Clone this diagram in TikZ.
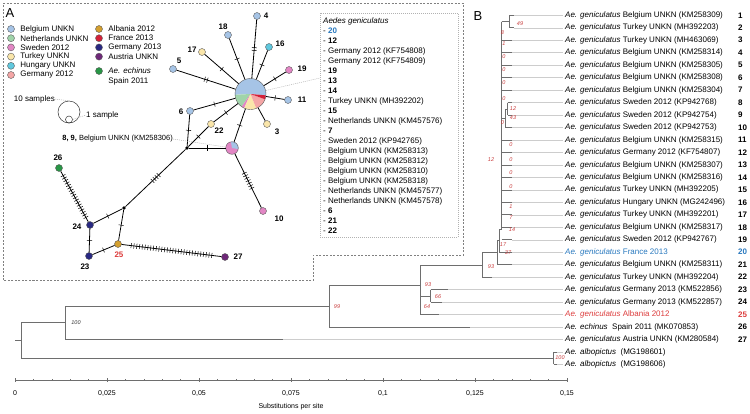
\documentclass[tikz,border=0pt]{standalone}
\usepackage{fontspec}
\setmainfont{Liberation Sans}
\usetikzlibrary{positioning,decorations.markings}
\definecolor{BelClr}{RGB}{166,196,230}
\definecolor{NetClr}{RGB}{160,212,170}
\definecolor{SweClr}{RGB}{226,134,196}
\definecolor{TurClr}{RGB}{250,230,170}
\definecolor{HunClr}{RGB}{96,200,222}
\definecolor{GerTwClr}{RGB}{244,166,166}
\definecolor{AlbClr}{RGB}{212,160,48}
\definecolor{FraClr}{RGB}{212,32,56}
\definecolor{GerThClr}{RGB}{40,40,130}
\definecolor{AusClr}{RGB}{110,40,120}
\definecolor{EchClr}{RGB}{40,150,70}
\definecolor{SupClr}{RGB}{200,60,60}
\definecolor{FraTxtClr}{RGB}{40,120,190}
\definecolor{AlbTxtClr}{RGB}{220,60,60}
\definecolor{BranchClr}{RGB}{110,110,110}
\definecolor{LeadClr}{RGB}{205,205,205}
\newcommand{\ry}[1]{2.83+12.47*#1}

\begin{document}
\begin{tikzpicture}[x=1pt,y=-1pt,
  txt/.style={inner sep=0pt, font=\fontsize{8}{9}\selectfont},
  hlab/.style={inner sep=0pt, font=\fontsize{8}{9}\selectfont\bfseries},
  sup/.style={inner sep=0pt, text=SupClr, font=\fontsize{5.5}{6}\selectfont\itshape},
  hap/.style={circle, draw=black!65, line width=.4pt, inner sep=0pt, minimum size=7pt},
  junc/.style={circle, fill=black, inner sep=0pt, minimum size=3.6pt},
  link/.style={line width=.8pt},
  mut/.style={link, postaction={decorate, decoration={markings, mark=at position .5 with {\foreach \k in {1,...,#1} \draw[line width=.5pt] ({(\k-(#1+1)/2)*2.8pt},-2.6pt) -- ++(0pt,5.2pt);}}}},
  lead/.style={LeadClr, line width=.5pt},
  dotline/.style={gray!60, line width=.5pt, dash pattern=on 1pt off 1pt},
  branch/.style={BranchClr, line width=.7pt},
  frame/.style={gray, line width=.5pt, dash pattern=on 2pt off 1.5pt},
]
\useasboundingbox (0,0) rectangle (750,413);

% panel A
\draw[frame] (3,3) -- (463,3) -- (463,255) -- (313,255) -- (313,280) -- (3,280) -- cycle;
\draw[dotline] (320,13) rectangle (458,237);
\node[inner sep=0pt, font=\fontsize{13}{13}\selectfont] at (10,13) {A};

\foreach \c/\t [count=\i] in {BelClr/Belgium UNKN, NetClr/Netherlands UNKN, SweClr/Sweden 2012, TurClr/Turkey UNKN, HunClr/Hungary UNKN, GerTwClr/Germany 2012} {
  \node[hap, fill=\c] (lgA\i) at (11,{29+9.2*(\i-1)}) {};
  \node[txt, right=5.5pt of lgA\i] {\t};
}
\foreach \c/\t [count=\i] in {AlbClr/Albania 2012, FraClr/France 2013, GerThClr/Germany 2013, AusClr/Austria UNKN} {
  \node[hap, fill=\c] (lgB\i) at (99,{29+9.2*(\i-1)}) {};
  \node[txt, right=5.5pt of lgB\i] {\t};
}
\node[hap, fill=EchClr] (lgEch) at (99,71) {};
\node[txt, right=5.5pt of lgEch] (ech) {\itshape Ae. echinus};
\node[txt, anchor=north west] at ([yshift=-3pt]ech.south west) {Spain 2011};

\node[circle, draw=black!80, line width=.5pt, inner sep=0pt, minimum size=22pt] (szBig) at (69,112) {};
\node[circle, draw=black!80, line width=.5pt, inner sep=0pt, minimum size=7pt] (szSmall) at (69,119.5) {};
\node[txt, anchor=east] (szBigTxt) at (55,99) {10 samples};
\node[txt, anchor=west] (szSmallTxt) at (86,115) {1 sample};
\draw[dotline] (szBigTxt.east) -- (szBig.north);
\draw[dotline] (szSmall.east) -- (szSmallTxt.west);

% haplotypes
\node[circle, inner sep=0pt, minimum size=31pt] (hc) at (250.5,94) {};
\foreach \a/\b/\c in {-5/183/BelClr, 183/235/NetClr, 235/246/SweClr, 246/292/TurClr, 292/340/GerTwClr, 340/355/FraClr}
  \fill[\c] (hc.center) -- ++(\a:15.5pt) arc[start angle=\a, end angle=\b, radius=15.5pt] -- cycle;
\draw[black!65, line width=.4pt] (hc.center) circle[radius=15.5pt];

\node[circle, inner sep=0pt, minimum size=12.6pt] (h89) at (232,148) {};
\fill[SweClr] (h89.center) circle[radius=6.3pt];
\fill[BelClr] (h89.center) -- ++(-10:6.3pt) arc[start angle=-10, end angle=100, radius=6.3pt] -- cycle;
\draw[black!65, line width=.4pt] (h89.center) circle[radius=6.3pt];

\node[hap, fill=BelClr] (h4) at (257,16) {};
\node[hap, fill=BelClr] (h18) at (228,35) {};
\node[hap, fill=HunClr] (h16) at (269,47) {};
\node[hap, fill=TurClr] (h17) at (202,52) {};
\node[hap, fill=SweClr] (h19) at (289,70) {};
\node[hap, fill=BelClr] (h5) at (173,69) {};
\node[hap, fill=BelClr] (h11) at (288,100) {};
\node[hap, fill=BelClr] (h6) at (190,111) {};
\node[hap, fill=TurClr] (h3) at (267,124) {};
\node[hap, fill=TurClr] (h22) at (211,124) {};
\node[hap, fill=SweClr] (h10) at (263,211) {};
\node[hap, fill=GerThClr] (h24) at (90,225) {};
\node[hap, fill=AlbClr] (h25) at (118,244) {};
\node[hap, fill=GerThClr] (h23) at (89,256) {};
\node[hap, fill=AusClr] (h27) at (225,257) {};
\node[hap, fill=EchClr] (h26) at (59,168) {};
\node[junc] (jA) at (187,148) {};
\node[junc] (jB) at (124,208) {};

\draw[mut=2] (hc) -- (h4);
\draw[mut=1] (hc) -- (h18);
\draw[mut=1] (hc) -- (h16);
\draw[mut=1] (hc) -- (h17);
\draw[mut=1] (hc) -- (h19);
\draw[mut=2] (hc) -- (h5);
\draw[mut=1] (hc) -- (h11);
\draw[mut=1] (hc) -- (h6);
\draw[link] (hc) -- (h3);
\draw[mut=1] (hc) -- (h22);
\draw[mut=1] (hc) -- (h89);
\draw[mut=1] (jA) -- (h22);
\draw[mut=1] (jA) -- (h6);
\draw[mut=1] (jA) -- (h89);
\draw[mut=4] (jA) -- (jB);
\draw[mut=7] (h89) -- (h10);
\draw[mut=1] (jB) -- (h24);
\draw[mut=1] (jB) -- (h25);
\draw[mut=1] (h24) -- (h23);
\draw[mut=18] (h24) -- (h26);
\draw[mut=1] (h23) -- (h25);
\draw[mut=30] (h25) -- (h27);

\node[hlab] at (266,16) {4};
\node[hlab] at (223,27) {18};
\node[hlab] at (280,44) {16};
\node[hlab] at (192,50) {17};
\node[hlab] at (302,69) {19};
\node[hlab] at (179,61) {5};
\node[hlab] at (302,100) {11};
\node[hlab] at (181,112) {6};
\node[hlab] at (277,132) {3};
\node[hlab] at (219,131) {22};
\node[hlab] at (279,219) {10};
\node[hlab] at (77,227) {24};
\node[hlab, text=AlbTxtClr] at (119,255) {25};
\node[hlab] at (85,267) {23};
\node[hlab] at (238,257) {27};
\node[hlab] at (58,158) {26};

\node[inner sep=0pt, anchor=east, font=\fontsize{7.5}{9}\selectfont] (lbl89) at (173,139) {\textbf{8, 9,} Belgium UNKN (KM258306)};
\coordinate (lstTop) at (320,78);
\draw[dotline] (lbl89.east) -- (h89);
\draw[dotline] (hc) -- (lstTop);

\node[txt, anchor=west] at (323,21) {\itshape Aedes geniculatus};
\foreach \t [count=\i] in {{\textcolor{FraTxtClr}{\textbf{20}}}, {\textbf{12}}, Germany 2012 (KF754808), Germany 2012 (KF754809), {\textbf{19}}, {\textbf{13}}, {\textbf{14}}, Turkey UNKN (MH392202), {\textbf{15}}, Netherlands UNKN (KM457576), {\textbf{7}}, Sweden 2012 (KP942765), Belgium UNKN (KM258313), Belgium UNKN (KM258312), Belgium UNKN (KM258310), Belgium UNKN (KM258318), Netherlands UNKN (KM457577), Netherlands UNKN (KM457578), {\textbf{6}}, {\textbf{21}}, {\textbf{22}}}
  \node[txt, anchor=west] at (323,{21+10*\i}) {- \t};

% panel B
\node[inner sep=0pt, font=\fontsize{13}{13}\selectfont] at (478,16) {B};

\foreach \r/\e in {1/514,2/514,3/512,4/512,5/512,6/512,7/512,8/512,9/512,10/512,11/512,12/512,13/512,14/512,15/512,16/512,17/512,18/512,19/512,20/512,21/512,22/492,23/448,24/442,25/439,26/470,27/283,28/557,29/557}
  \draw[lead] (\e,\ry{\r}) -- (563,\ry{\r});

\draw[branch] (509,\ry{1}) -- (514,\ry{1}) (509,\ry{2}) -- (514,\ry{2}) (509,\ry{1}) -- (509,\ry{2});
\draw[branch] (501.7,21.5) -- (509,21.5) (501.7,21.5) -- (501.7,228.9);
\foreach \r in {3,4,5,6,7,11,12,13,14,15,16,17,18,19}
  \draw[branch] (501.7,\ry{\r}) -- (512,\ry{\r});
\draw[branch] (501.7,118.2) -- (505,118.2) (505,108.9) -- (505,\ry{10}) -- (512,\ry{10})
  (505,108.9) -- (507.5,108.9) (507.5,\ry{8}) -- (507.5,\ry{9})
  (507.5,\ry{8}) -- (512,\ry{8}) (507.5,\ry{9}) -- (512,\ry{9});
\draw[branch] (501.7,228.9) -- (499.7,228.9) -- (499.7,\ry{20}) -- (512,\ry{20});
\draw[branch] (499.7,240.5) -- (497.7,240.5) -- (497.7,\ry{21}) -- (512,\ry{21});
\draw[branch] (497.7,252.6) -- (482.7,252.6) -- (482.7,\ry{22}) -- (492,\ry{22});
\draw[branch] (482.7,264.9) -- (420.7,264.9) -- (420.7,\ry{25}) -- (439,\ry{25});
\draw[branch] (420.7,295.9) -- (430.7,295.9) (430.7,\ry{23}) -- (430.7,\ry{24})
  (430.7,\ry{23}) -- (448,\ry{23}) (430.7,\ry{24}) -- (442,\ry{24});
\draw[branch] (420.7,285.1) -- (329,285.1) -- (329,\ry{26});
\draw[branch, line width=1pt] (329,\ry{26}) -- (470,\ry{26});
\draw[branch] (329,306) -- (65,306) -- (65,\ry{27}) -- (283,\ry{27});
\draw[branch] (65,322.8) -- (21,322.8) -- (21,358.2) -- (553.5,358.2);
\draw[branch] (15,340.5) -- (21,340.5);
\draw[branch] (553.5,\ry{28}) -- (553.5,\ry{29}) (553.5,\ry{28}) -- (557,\ry{28}) (553.5,\ry{29}) -- (557,\ry{29});

\foreach \x/\y/\t in {520/24/49, 502.5/33/8, 504/44/1, 504/57/0, 504/70/0, 504/83/0, 504/99/0, 513/109/12, 513/117.5/43, 502.5/123/0, 511/145/0, 491/160/12, 511/160/0, 511/173/0, 511/187/0, 511/207/1, 511/218/7, 512/230/14, 503/245/17, 508/253/37, 491/267/93, 428/285/93, 438/297/66, 427/307/64, 337/307/99, 560/358/100}
  \node[sup] at (\x,\y) {\t};
\node[sup, text=black!80] at (76,323) {100};

\foreach \r/\t in {1/Belgium UNKN (KM258309), 2/Turkey UNKN (MH392203), 3/Turkey UNKN (MH463069), 4/Belgium UNKN (KM258314), 5/Belgium UNKN (KM258305), 6/Belgium UNKN (KM258308), 7/Belgium UNKN (KM258304), 8/Sweden 2012 (KP942768), 9/Sweden 2012 (KP942754), 10/Sweden 2012 (KP942753), 11/Belgium UNKN (KM258315), 12/Germany 2012 (KF754807), 13/Belgium UNKN (KM258307), 14/Belgium UNKN (KM258316), 15/Turkey UNKN (MH392205), 16/Hungary UNKN (MG242496), 17/Turkey UNKN (MH392201), 18/Belgium UNKN (KM258317), 19/Sweden 2012 (KP942767), 21/Belgium UNKN (KM258311), 22/Turkey UNKN (MH392204), 23/Germany 2013 (KM522856), 24/Germany 2013 (KM522857), 27/Austria UNKN (KM280584)} {
  \node[txt, anchor=west] at (565,\ry{\r}) {\textit{Ae. geniculatus} \t};
  \node[hlab, anchor=west] at (738,\ry{\r}) {\r};
}
\node[txt, anchor=west, text=FraTxtClr] at (565,\ry{20}) {\textit{Ae. geniculatus} France 2013};
\node[hlab, anchor=west, text=FraTxtClr] at (738,\ry{20}) {20};
\node[txt, anchor=west, text=AlbTxtClr] at (565,\ry{25}) {\textit{Ae. geniculatus} Albania 2012};
\node[hlab, anchor=west, text=AlbTxtClr] at (738,\ry{25}) {25};
\node[txt, anchor=west] at (565,\ry{26}) {\textit{Ae. echinus}\ \ Spain 2011 (MK070853)};
\node[hlab, anchor=west] at (738,\ry{26}) {26};
\node[txt, anchor=west] at (565,\ry{28}) {\textit{Ae. albopictus}\ \ (MG198601)};
\node[txt, anchor=west] at (565,\ry{29}) {\textit{Ae. albopictus}\ \ (MG198606)};

% axis
\draw[branch] (15,380) -- (567,380);
\foreach \i in {0,...,30}
  \draw[branch, line width=.5pt] ({15+\i*18.4},379) -- ++(0,2);
\foreach \t [count=\i from 0] in {0,{0,025},{0,05},{0,075},{0,1},{0,125},{0,15}} {
  \draw[branch] ({15+\i*92},378) -- ++(0,4);
  \node[inner sep=0pt, font=\fontsize{7}{8}\selectfont] at ({15+\i*92},393) {\t};
}
\node[inner sep=0pt, font=\fontsize{7}{8}\selectfont] at (291,407) {Substitutions per site};
\end{tikzpicture}
\end{document}
